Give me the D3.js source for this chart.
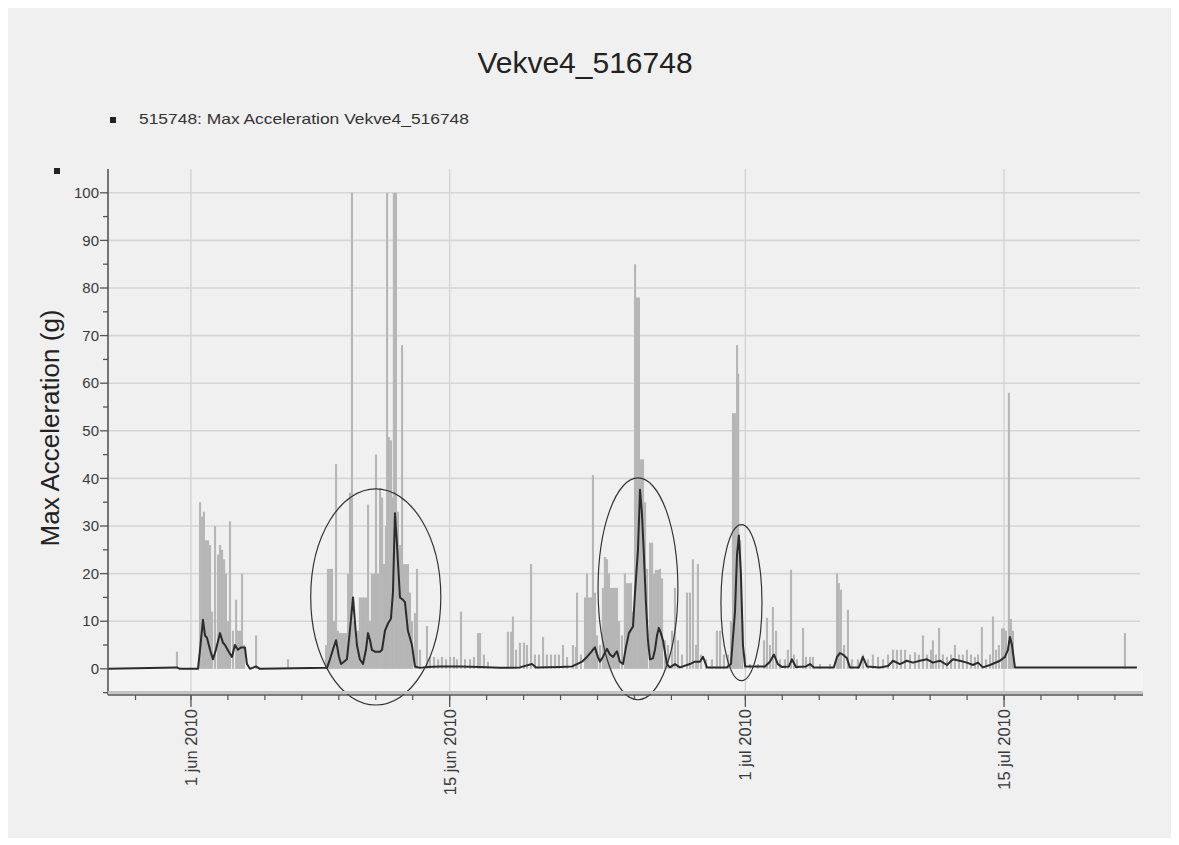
<!DOCTYPE html>
<html>
<head>
<meta charset="utf-8">
<script src="https://cdn.jsdelivr.net/npm/d3@7"></script>
<style>
  html, body { margin: 0; padding: 0; background: #ffffff; }
  svg { display: block; font-family: "Liberation Sans", Arial, sans-serif; }
</style>
</head>
<body>
<svg id="chart" width="1179" height="845"></svg>
<script>
// ---------------- DATA ----------------
const chartTitle = "Vekve4_516748";
const legendLabel = "515748: Max Acceleration Vekve4_516748";
const yAxisLabel = "Max Acceleration (g)";
const baseDate = "2010-06-01";            // day 0
const domainDays = [-4.49, 51.52];        // x extent, days from baseDate
const yDomain = [-5.5, 105];
const yTickValues = [0, 10, 20, 30, 40, 50, 60, 70, 80, 90, 100];
const majorTickLabels = ["1 jun 2010", "15 jun 2010", "1 jul 2010", "15 jul 2010"];
const majorTickDays = [0, 14, 30, 44];

// raw max acceleration samples (gray): [day, g]
const rawDays = [-0.76,0.49,0.6,0.7,0.81,0.92,1.03,1.14,1.3,1.46,1.57,1.68,1.79,1.89,2.0,2.11,2.27,2.44,2.54,2.65,2.76,2.87,3.52,5.25,
 7.31,7.41,7.52,7.63,7.74,7.85,7.95,8.06,8.17,8.28,8.39,8.5,8.6,8.71,8.82,8.93,9.04,9.14,9.25,9.36,9.47,9.58,9.69,9.79,9.9,10.01,10.12,10.23,10.34,10.44,10.55,10.61,10.71,10.82,10.93,10.98,11.09,11.2,11.31,11.42,11.52,11.63,11.74,11.85,11.96,12.12,12.23,12.39,12.77,
 12.93,13.15,13.37,13.58,13.8,14.02,14.23,14.39,14.61,14.83,15.1,15.31,15.53,15.64,15.85,16.07,
 17.15,17.32,17.42,17.59,17.8,18.02,18.18,18.4,18.61,18.83,19.05,19.26,19.48,19.7,19.91,20.13,20.35,20.67,20.83,20.89,21.1,21.32,21.43,21.54,21.65,21.75,21.86,21.97,
 22.13,22.29,22.4,22.51,22.62,22.73,22.84,22.94,23.05,23.16,23.32,23.48,23.59,23.7,23.81,23.92,24.03,24.13,24.24,24.35,24.46,24.57,24.68,24.84,24.95,25.06,25.16,25.27,25.38,25.49,25.65,25.81,26.03,26.19,26.35,26.57,26.84,27.0,27.16,27.33,27.43,27.6,27.87,28.19,28.46,28.63,28.84,29.06,
 29.22,29.33,29.44,29.55,29.61,29.72,29.83,29.99,30.25,30.68,31.01,31.17,31.33,31.49,31.66,31.87,32.14,32.3,32.47,32.63,32.79,33.12,33.28,33.5,33.66,34.04,34.58,
 34.96,35.06,35.17,35.34,35.55,35.77,36.09,36.36,36.63,36.9,37.18,37.45,37.72,37.99,38.2,38.42,38.64,38.91,39.18,39.39,39.61,39.83,40.04,40.15,40.31,40.48,40.69,40.91,41.13,41.34,41.56,41.77,41.99,42.21,42.42,42.59,42.8,43.02,43.24,43.4,43.56,43.72,43.89,43.99,44.1,44.26,44.37,44.48,50.54];
const rawValues = [3.6,35,32,33,27,27,26,12,30,24,26,25,23,20,10,31,8,14.5,8,8,20,5,7,2,
 5,21,21,21,10,43,8,7.5,7.5,7.5,7.5,20,37,100,10,6,8,15,15,15,15,34.5,10,20,20,45,20,38,36,22,30,100,48.7,48,36,100,100,33,26,68,22,22,22,16,10,11.7,21,4,9,
 2.5,2.5,2,2.5,2,2.5,2.5,2,12,2,2,2.5,7.5,7.5,3,1.5,
 7.8,7.8,11,4,5.5,5.5,5,22,3,3,6.7,3,3,3,3,5,2.5,5,4.6,16,3,15,20,15,15,40.7,16,7,
 5,17,23.5,23,20,17,17,17,17,10,7,20,18,18,18,12,85,78,78,44,44,35,21,26.5,26.5,20,20.8,20.8,21,19,6,5,8,17,6,3,16,16,23,5,22,3,2,2,8,8,3,3,
 10,53.7,53.7,68,62,27,10,3,1,1,6,10.7,5,13,8,2,2,4,20.8,3,2,8.6,2.5,2.5,2.5,1,1,
 20,18,16.6,5,12.4,2,2,3,2,3,2.5,2,3,4,4,4,4,3,3.5,3,7,3,4,6,3,8.6,3,2.5,3,5,3,3,4,3,2.5,3,8.8,2,3,11,4,5,8.5,8.5,8,58,10.5,8,7.5];

// smoothed max acceleration (dark line): [day, g]
const smoothDays = [-4.49,-0.76,-0.6,0.38,0.49,0.65,0.76,0.87,1.03,1.19,1.35,1.57,1.73,1.84,2.06,2.22,2.38,2.54,2.71,2.92,3.03,3.19,3.52,3.73,
 7.36,7.52,7.68,7.85,8.01,8.12,8.28,8.44,8.6,8.77,8.87,8.98,9.14,9.31,9.47,9.58,9.69,9.79,9.96,10.23,10.34,10.5,10.66,10.82,10.93,11.04,11.15,11.31,11.47,11.58,11.74,11.96,12.12,12.39,12.77,13.47,14.56,15.64,16.72,17.8,18.45,18.67,19.97,
 20.62,20.89,21.16,21.43,21.65,21.86,22.02,22.13,22.29,22.51,22.67,22.84,23.05,23.21,23.38,23.54,23.7,23.92,24.03,24.19,24.3,24.4,24.51,24.62,24.73,24.84,25.0,25.11,25.22,25.32,25.43,25.54,25.76,25.92,26.19,26.46,27.0,27.27,27.54,27.71,27.92,
 29.0,29.22,29.33,29.44,29.55,29.65,29.76,29.87,29.99,31.06,31.33,31.55,31.76,31.98,32.36,32.52,32.74,33.28,33.5,33.71,34.79,34.96,35.12,35.28,35.5,35.66,36.15,36.36,36.58,37.28,
 37.72,37.99,38.37,38.74,39.07,39.45,39.83,40.15,40.53,40.91,41.23,41.61,41.99,42.32,42.59,42.86,43.24,43.78,44.05,44.21,44.32,44.43,44.59,51.19];
const smoothValues = [0,0.3,0,0,4,10.3,7,6.5,4,2,4,7.5,5.5,5,3.5,2.5,5,4,4.5,4.5,1,0,0.5,0,
 0.2,2,4,6,2.5,1,1.5,2,8,15,10,5,2,1,4,7.5,6,4,3.6,3.6,4,8,9.5,10.5,16,32.7,26,15,14.5,14,8,5,0.5,0.2,0.4,0.5,0.5,0.4,0.2,0.3,1,0.3,0.4,
 0.5,1,1.5,2.5,3.5,4.5,2.5,1.5,2.5,4.2,3,2.5,3.7,1.5,1,4.5,7.5,8.9,16,25,37.6,33,24,14,6,2,2.2,4,7,8.6,7.5,6,1,0.3,1,0.3,1,1.5,1.5,2.5,0.3,
 0.3,1,6.5,12,24,28,20,5,0.5,0.5,1.5,3,1,0.4,0.5,2,0.4,0.5,1,0.3,0.3,2.5,3.3,3,2.2,0.3,0.3,2.5,0.5,0.3,
 0.6,1.7,1,1.7,1.3,1.7,2,1.3,1.7,0.8,2,1.7,1.3,0.8,1.3,0.3,0.8,1.7,2.5,4,6.7,5,0.3,0.3];

// annotation ellipses: centre (day, g) and half extents (days, g)
const ellipseDays = [10.0, 24.19, 29.79];
const ellipseValues = [15.1, 16.8, 13.9];
const ellipseHalfDays = [3.52, 2.16, 1.11];
const ellipseHalfValues = [22.7, 23.3, 16.4];

// ---------------- CHART ----------------
const svg = d3.select("#chart");
const DAY = 864e5;
const t0 = new Date(baseDate + "T00:00:00").getTime();
const toDate = d => new Date(t0 + d * DAY);

const pLeft = 108, pRight = 1143, pTop = 169, pBottom = 695;
const x = d3.scaleTime().domain(domainDays.map(toDate)).range([pLeft, pRight]);
const y = d3.scaleLinear().domain(yDomain).range([pBottom, pTop]);

// panel background
svg.append("rect").attr("x", 8).attr("y", 8).attr("width", 1163).attr("height", 830).attr("fill", "#f0f0f0");
svg.append("rect").attr("x", pLeft).attr("y", y(0)).attr("width", pRight - pLeft).attr("height", pBottom - y(0))
  .attr("fill", "#f4f4f4");

// grid
const grid = svg.append("g");
grid.selectAll("line.h").data(yTickValues.filter(v => v > 0)).join("line")
  .attr("x1", pLeft).attr("x2", pRight - 3).attr("y1", d => y(d)).attr("y2", d => y(d))
  .attr("stroke", "#d6d6d6").attr("stroke-width", 1.6);
grid.selectAll("line.v").data(majorTickDays).join("line")
  .attr("x1", d => x(toDate(d))).attr("x2", d => x(toDate(d)))
  .attr("y1", pTop).attr("y2", pBottom)
  .attr("stroke", "#d2d2d2").attr("stroke-width", 1.3);

// gray raw bars
const raw = rawDays.map((d, i) => ({ t: toDate(d), v: rawValues[i] }));
svg.append("g").selectAll("rect").data(raw).join("rect")
  .attr("x", d => x(d.t) - 1).attr("width", 2.1)
  .attr("y", d => y(d.v)).attr("height", d => y(0) - y(d.v))
  .attr("fill", "#b6b6b6");

// dark smoothed line
const smooth = smoothDays.map((d, i) => ({ t: toDate(d), v: smoothValues[i] }));
svg.append("path").datum(smooth)
  .attr("d", d3.line().x(d => x(d.t)).y(d => y(d.v)))
  .attr("fill", "none").attr("stroke", "#2b2b2b").attr("stroke-width", 2).attr("stroke-linejoin", "round");

// ellipses
const ell = ellipseDays.map((d, i) => ({ d, v: ellipseValues[i], hd: ellipseHalfDays[i], hv: ellipseHalfValues[i] }));
svg.append("g").selectAll("ellipse").data(ell).join("ellipse")
  .attr("cx", e => x(toDate(e.d))).attr("cy", e => y(e.v))
  .attr("rx", e => x(toDate(e.d + e.hd)) - x(toDate(e.d)))
  .attr("ry", e => y(0) - y(e.hv))
  .attr("fill", "none").attr("stroke", "#333").attr("stroke-width", 1.2);

// y axis
const yMinor = d3.range(-5, 105, 5);
const yAxisG = svg.append("g").attr("transform", `translate(${pLeft},0)`);
yAxisG.append("line").attr("x1", 0).attr("x2", 0).attr("y1", pTop).attr("y2", pBottom)
  .attr("stroke", "#555").attr("stroke-width", 1.6);
yAxisG.selectAll("line.t").data(yMinor).join("line")
  .attr("x1", d => (d % 10 === 0 ? -8 : -5)).attr("x2", 0)
  .attr("y1", d => y(d)).attr("y2", d => y(d))
  .attr("stroke", "#555").attr("stroke-width", 1.3);
yAxisG.selectAll("text").data(yTickValues).join("text")
  .attr("x", -9).attr("y", d => y(d)).attr("dy", "0.35em")
  .attr("text-anchor", "end").attr("font-size", 15).attr("fill", "#3a3a3a")
  .text(d => d);

// x axis
svg.append("line").attr("x1", pLeft).attr("x2", pRight).attr("y1", pBottom - 2.5).attr("y2", pBottom - 2.5)
  .attr("stroke", "#c4c4c4").attr("stroke-width", 3);
svg.append("line").attr("x1", pLeft).attr("x2", pRight).attr("y1", pBottom).attr("y2", pBottom)
  .attr("stroke", "#555").attr("stroke-width", 1.6);
const minorTicks = d3.timeDay.range(toDate(domainDays[0]), toDate(domainDays[1]))
  .filter(d => d.getDate() % 2 === 1 && d.getDate() !== 31);
svg.append("g").selectAll("line").data(minorTicks).join("line")
  .attr("x1", d => x(d)).attr("x2", d => x(d)).attr("y1", pBottom).attr("y2", pBottom + 5)
  .attr("stroke", "#555").attr("stroke-width", 1.2);
svg.append("g").selectAll("line").data(majorTickDays).join("line")
  .attr("x1", d => x(toDate(d))).attr("x2", d => x(toDate(d))).attr("y1", pBottom).attr("y2", pBottom + 12)
  .attr("stroke", "#555").attr("stroke-width", 1.3);
svg.append("g").selectAll("text").data(majorTickDays).join("text")
  .attr("transform", d => `translate(${x(toDate(d)) + 6},${pBottom + 14}) rotate(-90)`)
  .attr("text-anchor", "end").attr("font-size", 16.5).attr("fill", "#3a3a3a")
  .text((d, i) => majorTickLabels[i]);

// titles
svg.append("text").attr("x", 585).attr("y", 73).attr("text-anchor", "middle")
  .attr("font-size", 30).attr("fill", "#222").text(chartTitle);
svg.append("rect").attr("x", 110).attr("y", 117).attr("width", 6).attr("height", 6).attr("fill", "#222");
svg.append("text").attr("x", 139).attr("y", 124).attr("font-size", 15).attr("fill", "#333")
  .attr("textLength", 330).attr("lengthAdjust", "spacingAndGlyphs").text(legendLabel);
svg.append("rect").attr("x", 54).attr("y", 168).attr("width", 6).attr("height", 6).attr("fill", "#222");
svg.append("text").attr("transform", "translate(59,428) rotate(-90)").attr("text-anchor", "middle")
  .attr("font-size", 26).attr("fill", "#222").text(yAxisLabel);
</script>
</body>
</html>
